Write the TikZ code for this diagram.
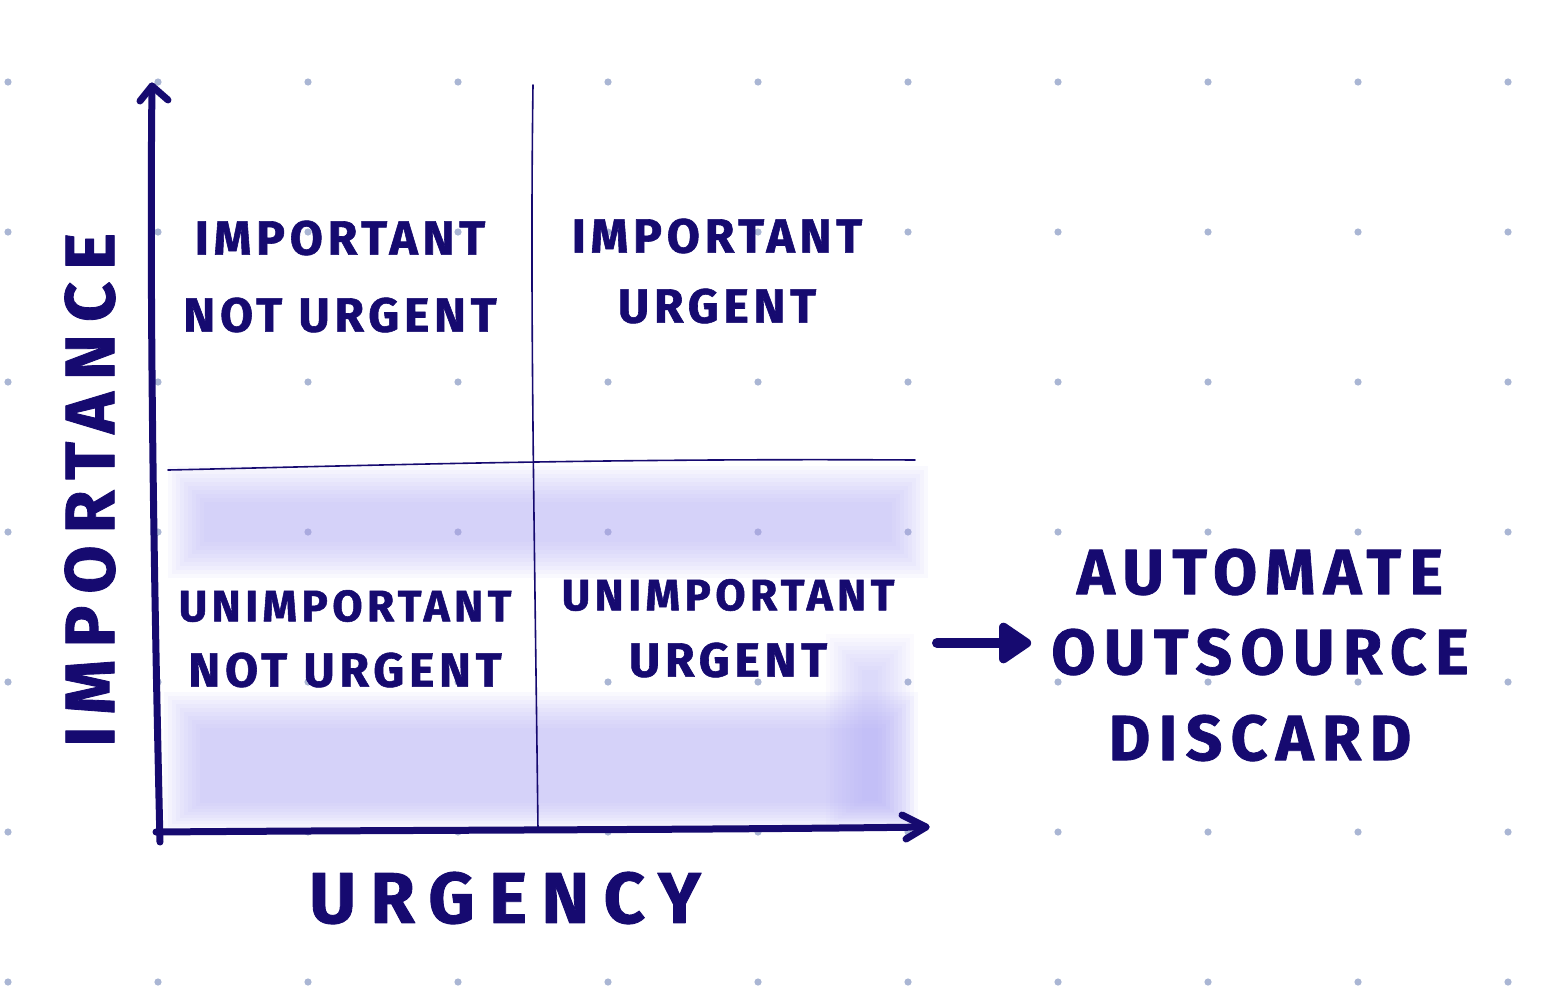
\documentclass[tikz,border=0pt]{standalone}
\usepackage{fontspec}
\setmainfont{Fira Sans}
\newfontfamily\hand{Fira Sans}[LetterSpace=10,FakeBold=1.2]
\usetikzlibrary{arrows.meta, positioning}
\definecolor{ink}{RGB}{22,10,112}
\definecolor{dotgrey}{RGB}{170,182,212}
\definecolor{wash}{RGB}{170,164,243}

\begin{document}
\begin{tikzpicture}[x=1pt,y=-1pt,on grid,line cap=round,line join=round]
  \tikzstyle{quad}=[text=ink,font=\hand\bfseries\fontsize{48}{52}\selectfont,inner sep=0pt]
  \tikzstyle{quad wide}=[quad,font=\hand\bfseries\fontsize{44}{48}\selectfont]
  \tikzstyle{axis label}=[text=ink,font=\hand\bfseries\fontsize{72}{76}\selectfont\addfontfeatures{LetterSpace=20},inner sep=0pt]
  \tikzstyle{action}=[text=ink,font=\hand\bfseries\fontsize{64}{68}\selectfont\addfontfeatures{LetterSpace=13},inner sep=0pt]
  \tikzstyle{axis}=[draw=ink,line width=7pt]
  \tikzstyle{divider}=[draw=ink,line width=1.6pt]

  \useasboundingbox (0,0) rectangle (1541,986);

  % dot grid
  \foreach \x in {8,158,...,1508}
    \foreach \y in {82,232,...,982}
      \fill[dotgrey] (\x,\y) circle (3.6pt);

  % soft wash over the lower half
  \foreach \i in {0,...,9} {
    \fill[wash,opacity=0.065] ({168+\i*4},{466+\i*4}) rectangle ({928-\i*4},{578-\i*4});
    \fill[wash,opacity=0.065] ({164+\i*4},{692+\i*4}) rectangle ({918-\i*4},{830-\i*3});
    \fill[wash,opacity=0.05] ({826+\i*4},{634+\i*4}) rectangle ({914-\i*4},{828-\i*3});
  }

  % axes
  \coordinate (origin) at (160,842);
  \coordinate (y_top) at (152,86);
  \coordinate (x_start) at (156,832);
  \coordinate (x_end) at (926,827);
  \draw[axis] (origin) .. controls (152,500) and (150,250) .. (y_top);
  \draw[axis] (y_top) ++(-12,15) -- (y_top) -- ++(16,14);
  \draw[axis] (x_start) .. controls (400,830) and (700,830) .. (x_end);
  \draw[axis] (x_end) ++(-24,-12) -- (x_end) -- ++(-20,12);

  % quadrant dividers
  \coordinate (v_top) at (533,85);
  \coordinate (v_bot) at (538,830);
  \coordinate (h_left) at (168,470);
  \coordinate (h_right) at (915,460);
  \draw[divider] (v_top) .. controls (530,300) and (534,500) .. (v_bot);
  \draw[divider] (h_left) .. controls (350,466) and (600,458) .. (h_right);

  % quadrant labels
  \node[quad] (inu_1) at (340,238) {IMPORTANT};
  \node[quad] (inu_2) [below=77pt of inu_1] {NOT URGENT};
  \node[quad] (iu_1) at (717,236) {IMPORTANT};
  \node[quad] (iu_2) [below=70pt of iu_1] {URGENT};
  \node[quad wide] (unu_1) at (345,606) {UNIMPORTANT};
  \node[quad] (unu_2) [below=64pt of unu_1] {NOT URGENT};
  \node[quad wide] (uu_1) at (728,595) {UNIMPORTANT};
  \node[quad] (uu_2) [below=65pt of uu_1] {URGENT};

  % axis labels
  \node[axis label,rotate=90,font=\hand\bfseries\fontsize{70}{74}\selectfont\addfontfeatures{LetterSpace=17}] (imp_lbl) at (90,490) {IMPORTANCE};
  \node[axis label] (urg_lbl) at (505,898) {URGENCY};

  % what to do with the unimportant half
  \node[action] (automate) at (1260,572) {AUTOMATE};
  \node[action] (outsource) [below=80pt of automate] {OUTSOURCE};
  \node[action] (discard) [below=86pt of outsource] {DISCARD};

  \coordinate (arr_tail) at (937,643);
  \draw[ink,line width=10pt,-{Triangle[round,length=36pt,width=46pt]},shorten >=20pt]
    (arr_tail) -- (outsource.west |- arr_tail);
\end{tikzpicture}
\end{document}
